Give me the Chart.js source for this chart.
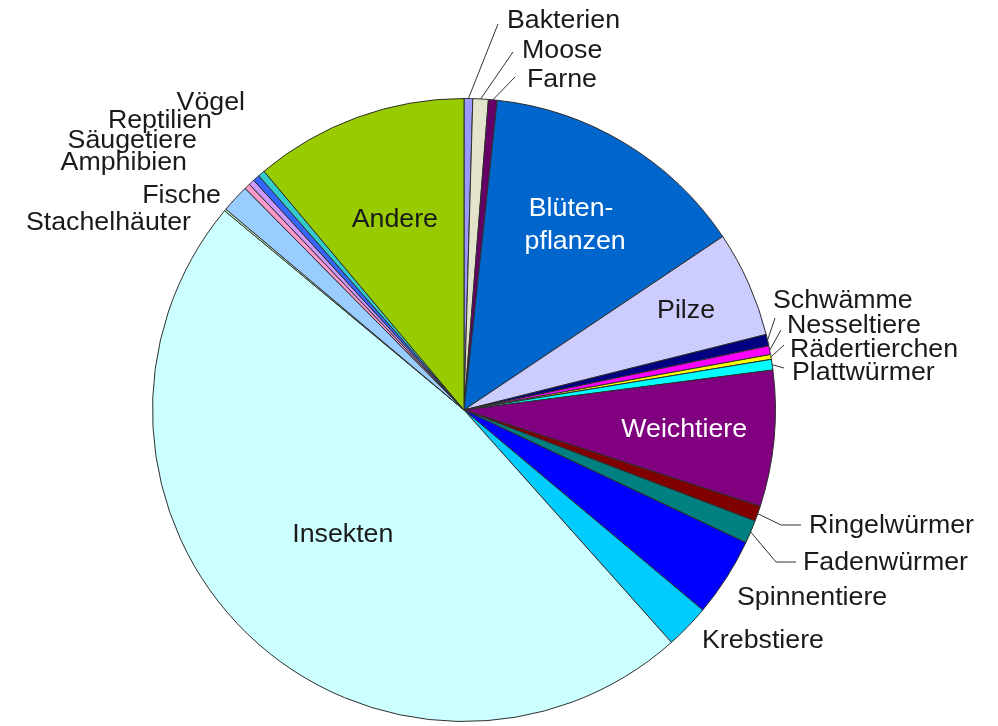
<!DOCTYPE html>
<html lang="de">
<head>
<meta charset="utf-8">
<title>Artenvielfalt</title>
<script src="https://cdn.jsdelivr.net/npm/chart.js@4"></script>
<style>
  html, body { margin: 0; padding: 0; background: #fff; }
  #wrap { width: 998px; height: 726px; }
</style>
</head>
<body>
<div id="wrap"><canvas id="pieChart" width="998" height="726"></canvas></div>
<script>
// Beschriebene Arten (geschaetzt, in Tausend)
const categories = ['Bakterien', 'Moose', 'Farne', 'Blütenpflanzen', 'Pilze', 'Schwämme', 'Nesseltiere',
    'Rädertierchen', 'Plattwürmer', 'Weichtiere', 'Ringelwürmer', 'Fadenwürmer', 'Spinnentiere',
    'Krebstiere', 'Insekten', 'Stachelhäuter', 'Fische', 'Amphibien', 'Säugetiere', 'Reptilien',
    'Vögel', 'Andere'];
const species = [9, 16, 9, 278, 110, 12, 9, 5, 11, 141, 16, 24, 82, 46, 953, 2, 29, 6, 6, 7, 7, 222];
const colors = ['#9999FF', '#E4E4CC', '#660066', '#0066CC', '#CCCCFF', '#000080', '#FF00FF',
    '#FFFF00', '#00FFFF', '#800080', '#800000', '#008080', '#0000FF',
    '#00CCFF', '#CCFFFF', '#CCFFCC', '#99CCFF', '#FF99CC', '#CC99FF', '#3366FF',
    '#33CCCC', '#99CC00'];

// Beschriftung: innen (Radiusanteil) oder aussen (Textposition + Fuehrungslinie)
const labelLayout = {
    'Blütenpflanzen': { inside: true, r: 0.69, shift: -4, color: '#ffffff', lines: ['Blüten-', 'pflanzen'] },
    'Pilze': { inside: true, r: 0.78, color: '#1a1a1a' },
    'Weichtiere': { inside: true, r: 0.71, color: '#ffffff' },
    'Insekten': { inside: true, r: 0.56, color: '#1a1a1a' },
    'Andere': { inside: true, r: 0.65, color: '#1a1a1a' },
    'Bakterien': { x: 507, y: 21, line: [[498, 24]] },
    'Moose': { x: 522, y: 51, line: [[513, 52]] },
    'Farne': { x: 527, y: 80, line: [[515, 77]] },
    'Schwämme': { x: 773, y: 301, line: [[775, 318]] },
    'Nesseltiere': { x: 787, y: 326, line: [[781, 330]] },
    'Rädertierchen': { x: 790, y: 350, line: [[784, 345]] },
    'Plattwürmer': { x: 792, y: 373, line: [[784, 368]] },
    'Ringelwürmer': { x: 809, y: 526, line: [[781, 525], [801, 525]] },
    'Fadenwürmer': { x: 803, y: 563, line: [[776, 562], [796, 562]] },
    'Spinnentiere': { x: 737, y: 598 },
    'Krebstiere': { x: 702, y: 641 },
    'Stachelhäuter': { x: 191, y: 223, align: 'right' },
    'Fische': { x: 221, y: 196, align: 'right' },
    'Amphibien': { x: 187, y: 163, align: 'right' },
    'Säugetiere': { x: 197, y: 141, align: 'right' },
    'Reptilien': { x: 212, y: 121, align: 'right' },
    'Vögel': { x: 245, y: 103, align: 'right' }
};
const textStretch = 1.07; // Vorlage ist leicht in die Breite gezogen

function drawText(ctx, text, x, y) {
    ctx.save();
    ctx.translate(x, y);
    ctx.scale(textStretch, 1);
    ctx.fillText(text, 0, 0);
    ctx.restore();
}

const pieLabels = {
    id: 'pieLabels',
    afterDatasetsDraw(chart) {
        const ctx = chart.ctx;
        const arcs = chart.getDatasetMeta(0).data;
        ctx.save();
        ctx.font = '25px "Liberation Sans", Arial, sans-serif';
        ctx.textBaseline = 'middle';
        arcs.forEach((arc, i) => {
            const lay = labelLayout[categories[i]];
            if (!lay) return;
            const mid = (arc.startAngle + arc.endAngle) / 2;
            if (lay.inside) {
                const rr = arc.outerRadius * lay.r;
                const cx = arc.x + Math.cos(mid) * rr;
                const cy = arc.y + Math.sin(mid) * rr;
                const lines = lay.lines || [categories[i]];
                ctx.fillStyle = lay.color;
                ctx.textAlign = 'center';
                lines.forEach((t, k) => {
                    const off = (k - (lines.length - 1) / 2) * 33;
                    drawText(ctx, t, cx + (lay.shift && k === 0 ? lay.shift : 0), cy + off);
                });
                return;
            }
            if (lay.line) {
                ctx.strokeStyle = '#333';
                ctx.lineWidth = 1;
                ctx.beginPath();
                ctx.moveTo(arc.x + Math.cos(mid) * arc.outerRadius, arc.y + Math.sin(mid) * arc.outerRadius);
                lay.line.forEach(p => ctx.lineTo(p[0], p[1]));
                ctx.stroke();
            }
            ctx.fillStyle = '#1a1a1a';
            ctx.textAlign = lay.align || 'left';
            drawText(ctx, categories[i], lay.x, lay.y);
        });
        ctx.restore();
    }
};

const ctx = document.getElementById('pieChart').getContext('2d');
const pieChart = new Chart(ctx, {
    type: 'pie',
    data: {
        labels: categories,
        datasets: [{
            data: species,
            backgroundColor: colors,
            borderColor: '#2e2e2e',
            borderWidth: 1
        }]
    },
    options: {
        responsive: false,
        animation: false,
        layout: {
            padding: { left: 152, right: 222, top: 98, bottom: 4 }
        },
        plugins: {
            legend: { display: false },
            tooltip: { enabled: false }
        }
    },
    plugins: [pieLabels]
});
</script>
</body>
</html>
